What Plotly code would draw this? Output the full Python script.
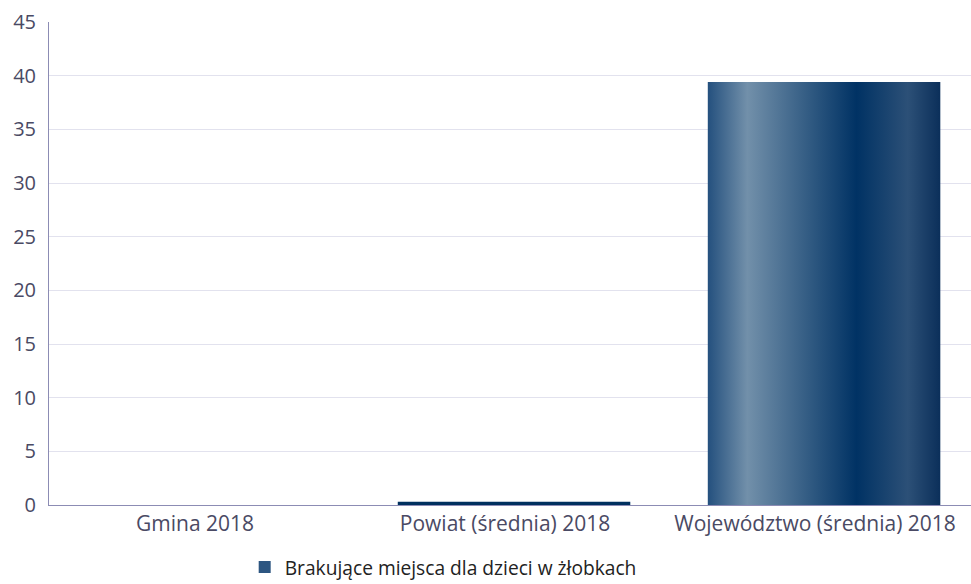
import plotly.graph_objects as go

categories = ["Gmina 2018", "Powiat (średnia) 2018", "Województwo (średnia) 2018"]
values = [0.0, 0.3, 39.4]
series_name = "Brakujące miejsca dla dzieci w żłobkach"
y_ticks = [0, 5, 10, 15, 20, 25, 30, 35, 40, 45]

BAR_HALF = 0.375
gradient = [[0.0, "#24507e"], [0.17, "#7290aa"], [0.64, "#003264"],
            [0.86, "#2c5077"], [1.0, "#0b2f5a"]]

fig = go.Figure()
for i, (cat, v) in enumerate(zip(categories, values)):
    if v <= 0:
        continue
    xs = [i - BAR_HALF, i + BAR_HALF, i + BAR_HALF, i - BAR_HALF, i - BAR_HALF]
    ys = [0, 0, v, v, 0]
    kw = {}
    if v < 1:
        kw["fillcolor"] = "#00305f"
    else:
        kw["fillgradient"] = dict(type="horizontal", colorscale=gradient)
    fig.add_trace(go.Scatter(x=xs, y=ys, fill="toself", mode="lines",
                             line=dict(width=0), showlegend=False,
                             hoverinfo="skip", name=cat, **kw))

# legend entry
fig.add_trace(go.Bar(x=[None], y=[None], name=series_name,
                     marker=dict(color="#2d5681", line=dict(width=0)),
                     showlegend=True))

fig.update_layout(
    width=971, height=584,
    margin=dict(l=49, r=0, t=22, b=79),
    paper_bgcolor="white", plot_bgcolor="white",
    font=dict(family="Open Sans", size=21, color="#4a4a64"),
    legend=dict(orientation="h", xref="container", yref="container",
                x=0.252, y=0.029, xanchor="left", yanchor="middle",
                font=dict(size=19.2, color="#222222"),
                bgcolor="rgba(0,0,0,0)"),
)
fig.update_xaxes(
    range=[-0.5, 2.474], tickmode="array", tickvals=list(range(len(categories))),
    ticktext=categories, showgrid=False, zeroline=False,
    showline=True, linecolor="#8c8cb4", linewidth=1,
    ticks="outside", ticklen=0, tickcolor="rgba(0,0,0,0)",
    ticklabelshift=-9,
    tickfont=dict(size=21, color="#4a4a64"),
)
fig.update_yaxes(
    range=[0, 45], tickmode="array", tickvals=y_ticks,
    showgrid=True, gridcolor="#e2e2ee", gridwidth=1, zeroline=False,
    showline=True, linecolor="#8c8cb4", linewidth=1,
    ticks="outside", ticklen=8, tickcolor="rgba(0,0,0,0)",
    tickfont=dict(size=20, color="#4a4a64"),
)

fig.write_html("out.html", config={"displayModeBar": False},
               post_script="document.body.style.margin='0';document.body.style.overflow='hidden';")
